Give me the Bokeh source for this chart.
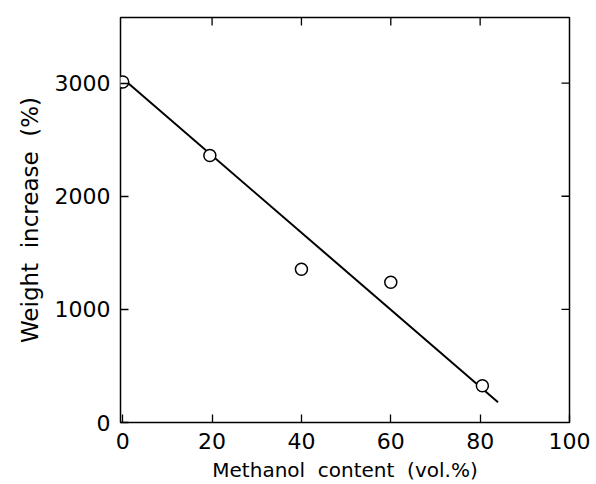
from bokeh.plotting import figure
from bokeh.models import FixedTicker, Range1d
from bokeh.embed import file_html
from bokeh.resources import INLINE

# data
methanol = [0, 19.5, 40, 60, 80.5]
weight_increase = [3010, 2360, 1355, 1240, 325]
fit_x = [0, 84]
fit_y = [3040, 180]
x_ticks = [0, 20, 40, 60, 80, 100]
y_ticks = [0, 1000, 2000, 3000]
x_max = 100
y_max = 3580

FONT = "DejaVu Sans"
SP = "\u00a0\u00a0"

p = figure(width=596, height=484, output_backend="svg", toolbar_location=None,
           x_range=Range1d(-0.5, x_max), y_range=Range1d(0, y_max),
           min_border_left=120, min_border_right=27, min_border_top=17, min_border_bottom=62)
p.background_fill_color = "white"
p.border_fill_color = "white"
p.xgrid.visible = False
p.ygrid.visible = False
p.outline_line_color = "black"
p.outline_line_width = 1.5

p.line(fit_x, fit_y, line_color="black", line_width=2)
p.scatter(methanol, weight_increase, size=12, marker="circle",
          fill_color="white", line_color="black", line_width=1.5)

# inward ticks on the right and top edges (half of each dash is clipped by the frame)
p.scatter([x_max] * len(y_ticks[1:]), y_ticks[1:], marker="dash", size=16,
          line_color="black", line_width=1.3)
p.scatter(x_ticks[1:-1], [y_max] * len(x_ticks[1:-1]), marker="dash", size=16, angle=1.5708,
          line_color="black", line_width=1.3)

def style(ax):
    ax.major_tick_in = 8
    ax.major_tick_out = 0
    ax.minor_tick_in = 0
    ax.minor_tick_out = 0
    ax.major_tick_line_color = "black"
    ax.major_tick_line_width = 1.3
    ax.axis_line_color = None
    ax.major_label_text_font = FONT
    ax.major_label_text_font_size = "22px"
    ax.major_label_text_color = "black"
    ax.axis_label_text_font = FONT
    ax.axis_label_text_font_style = "normal"
    ax.axis_label_text_color = "black"

xa = p.xaxis[0]
xa.ticker = FixedTicker(ticks=x_ticks)
xa.axis_label = "Methanol" + SP + "content" + SP + "(vol.%)"
style(xa)
xa.axis_label_text_font_size = "20px"
xa.major_label_standoff = 10
xa.axis_label_standoff = 6

ya = p.yaxis[0]
ya.ticker = FixedTicker(ticks=y_ticks)
ya.axis_label = "Weight" + SP + "increase" + SP + "(%)"
style(ya)
ya.axis_label_text_font_size = "23px"
ya.major_label_standoff = 10
ya.axis_label_standoff = 9
ya.major_label_orientation = "horizontal"

open("out.html", "w").write(file_html(p, INLINE))
